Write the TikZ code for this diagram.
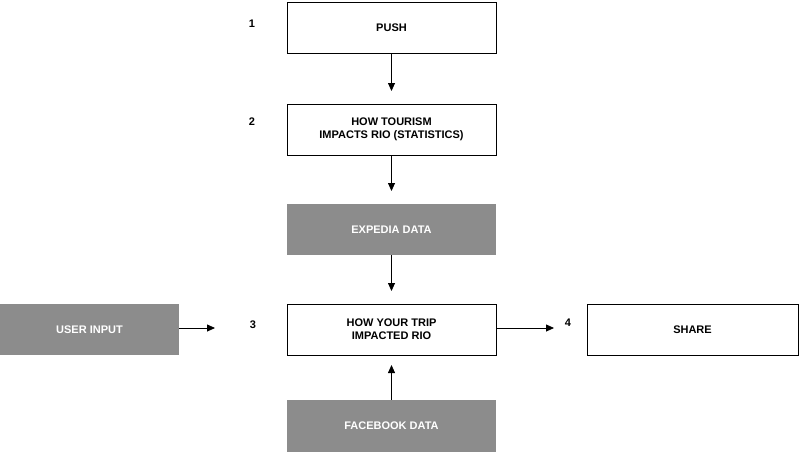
\documentclass[tikz,border=0pt]{standalone}
\usepackage{fontspec}
\setmainfont{Liberation Sans}
\usetikzlibrary{arrows.meta}
\begin{document}
\begin{tikzpicture}[x=1pt,y=-1pt,
  wbox/.style={draw=black,line width=0.8pt,fill=white,minimum width=209pt,minimum height=51pt,inner sep=0pt,align=center,font=\bfseries\fontsize{11}{13}\selectfont},
  gbox/.style={fill=black!45,text=white,minimum width=209pt,minimum height=51pt,inner sep=0pt,align=center,font=\bfseries\fontsize{11}{13}\selectfont},
  num/.style={font=\bfseries\fontsize{11}{13}\selectfont},
  arr/.style={line width=0.8pt,-{Triangle[length=8pt,width=7pt]}}]
\useasboundingbox (0,0) rectangle (800,452);
\node[wbox] (push) at (391.5,28) {PUSH};
\node[wbox] (tour) at (391.5,129.5) {HOW TOURISM\\IMPACTS RIO (STATISTICS)};
\node[gbox] (exp) at (391.5,229.5) {EXPEDIA DATA};
\node[wbox] (trip) at (391.5,329.5) {HOW YOUR TRIP\\IMPACTED RIO};
\node[gbox,minimum height=52pt] (fb) at (391.5,426) {FACEBOOK DATA};
\node[gbox,minimum width=179pt] (user) at (89.5,329.5) {USER INPUT};
\node[wbox,minimum width=211pt] (share) at (692.5,329.5) {SHARE};
\node[num] (n1) at (252,24) {1};
\node[num] (n2) at (252,122) {2};
\node[num] (n3) at (253,325) {3};
\node[num] (n4) at (568,323) {4};
\coordinate (a1) at (391.5,91);
\coordinate (a2) at (391.5,191);
\coordinate (a3) at (391.5,291);
\coordinate (a4) at (391.5,365);
\coordinate (a5) at (215,328);
\coordinate (a6) at (554,328);
\draw[arr] (push.south) -- (a1);
\draw[arr] (tour.south) -- (a2);
\draw[arr] (exp.south) -- (a3);
\draw[arr] (fb.north) -- (a4);
\draw[arr] (user.east|-a5) -- (a5);
\draw[arr] (trip.east|-a6) -- (a6);
\end{tikzpicture}
\end{document}
